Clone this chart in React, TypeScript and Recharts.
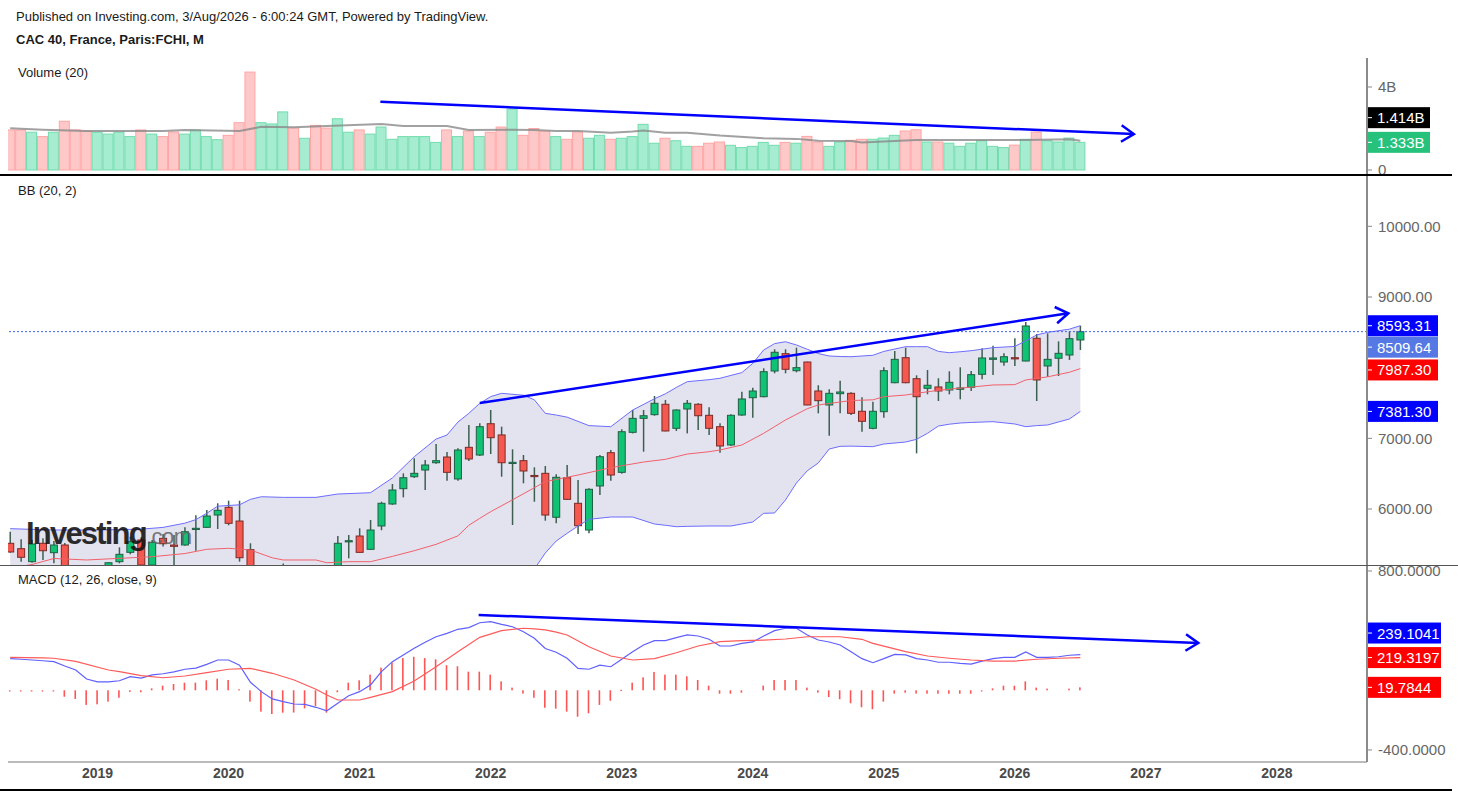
import React from 'react';
import { ComposedChart, Bar, Line, Area, XAxis, YAxis, ReferenceLine } from 'recharts';

const FONT = '"Liberation Sans", Arial, Helvetica, sans-serif';

// month index: 0 = Jan 2019, first candle is May 2018
const FIRST_MONTH = -8;
const X_DOMAIN: [number, number] = [-8.2, 116.25];
const yearTicks = [0, 12, 24, 36, 48, 60, 72, 84, 96, 108];

const opens = [
  5515, 5439, 5255, 5515, 5382, 5491, 5093, 4997,
  4731, 4993, 5255, 5387, 5562, 5207, 5585, 5491, 5491, 5713, 5741, 5915,
  6024, 5830, 5425, 4396, 4572, 4695, 4936, 4784, 4947, 4803, 4594, 5535,
  5618, 5430, 5760, 6071, 6288, 6457, 6552, 6655, 6736, 6425, 6873, 6764,
  7207, 7048, 6655, 6684, 6475, 6505, 5883, 6443, 6081, 5703, 6326, 6797,
  6519, 7085, 7283, 7335, 7482, 7142, 7415, 7482, 7326, 7165, 6906, 7330,
  7575, 7589, 7953, 8198, 7957, 8080, 7670, 7472, 7632, 7637, 7383, 7142,
  7377, 7787, 8141, 7844, 7708, 7727, 7684, 7694, 7722, 7906, 8118, 8080,
  8141, 8094, 8416, 8024, 8133, 8179, 8392,
];
const highs = [
  5679, 5571, 5562, 5585, 5547, 5520, 5180, 5040,
  5000, 5245, 5458, 5609, 5600, 5560, 5647, 5632, 5741, 5911, 5986, 6081,
  6118, 6118, 5515, 4600, 4700, 5230, 5150, 5050, 5120, 5000, 5618, 5632,
  5727, 5845, 6103, 6354, 6505, 6718, 6694, 6920, 6807, 6860, 7189, 7213,
  7401, 7165, 6845, 6764, 6590, 6609, 6491, 6623, 6411, 6293, 6764, 6835,
  7128, 7401, 7401, 7599, 7543, 7411, 7543, 7496, 7439, 7213, 7340, 7660,
  7717, 7991, 8260, 8260, 8283, 8085, 7751, 7694, 7814, 7651, 7581, 7519,
  8005, 8236, 8283, 7892, 7967, 7850, 7949, 8005, 7953, 8274, 8311, 8203,
  8416, 8646, 8476, 8486, 8373, 8515, 8593.31,
];
const lows = [
  5380, 5255, 5240, 5279, 5232, 4950, 4900, 4556,
  4600, 4950, 5232, 5359, 5100, 5200, 5470, 5170, 5480, 5410, 5730, 5717,
  5770, 5255, 3600, 4100, 4300, 4650, 4750, 4650, 4750, 4500, 4590, 5303,
  5380, 5420, 5700, 6060, 6165, 6440, 6269, 6640, 6401, 6400, 6679, 6750,
  6778, 6457, 5774, 6364, 6103, 5835, 5798, 6130, 5647, 5656, 6198, 6401,
  6500, 7070, 6811, 7320, 7100, 7104, 7070, 7118, 7048, 6797, 6892, 7320,
  7292, 7580, 7920, 7920, 7934, 7470, 7354, 7037, 7354, 7330, 7094, 7130,
  7292, 7780, 7780, 6788, 7623, 7528, 7623, 7552, 7670, 7835, 7896, 8028,
  8024, 8090, 7528, 7873, 7882, 8109, 8250,
];
const closes = [
  5392, 5317, 5505, 5410, 5491, 5093, 4997, 4731,
  4993, 5240, 5359, 5538, 5207, 5529, 5509, 5472, 5679, 5727, 5901, 5982,
  5798, 5311, 4396, 4572, 4695, 4936, 4784, 4947, 4803, 4594, 5515, 5552,
  5387, 5703, 6081, 6269, 6443, 6505, 6623, 6684, 6519, 6835, 6708, 7165,
  7009, 6655, 6661, 6538, 6460, 5915, 6449, 6137, 5764, 6279, 6740, 6481,
  7094, 7283, 7320, 7496, 7104, 7401, 7496, 7320, 7142, 6892, 7326, 7557,
  7670, 7943, 8218, 7977, 8000, 7472, 7533, 7637, 7656, 7354, 7241, 7383,
  7957, 8118, 7787, 7589, 7751, 7670, 7793, 7713, 7901, 8137, 8137, 8155,
  8133, 8590, 7826, 8118, 8203, 8410, 8509.64,
];
// billions
const volumes = [
  1.93, 1.93, 1.82, 1.61, 1.82, 2.35, 1.93, 1.88,
  1.82, 1.73, 1.82, 1.61, 1.93, 1.73, 1.61, 1.83, 1.73, 1.93, 1.61, 1.46,
  1.67, 2.28, 4.72, 2.28, 2.22, 2.8, 2.02, 1.53, 2.15, 2.02, 2.47, 1.82,
  1.93, 1.73, 2.07, 1.48, 1.61, 1.61, 1.61, 1.33, 1.93, 1.61, 1.88, 1.61,
  1.82, 2.07, 2.94, 1.67, 2.0, 1.88, 1.61, 1.48, 1.83, 1.53, 1.67, 1.48,
  1.53, 1.61, 2.2, 1.29, 1.53, 1.41, 1.14, 1.14, 1.29, 1.35, 1.19, 1.08,
  1.14, 1.33, 1.19, 1.33, 1.29, 1.62, 1.35, 1.14, 1.35, 1.43, 1.48, 1.48,
  1.54, 1.67, 1.88, 1.94, 1.35, 1.35, 1.29, 1.14, 1.29, 1.41, 1.14, 1.08,
  1.2, 1.48, 1.83, 1.41, 1.35, 1.54, 1.333,
];
const macdLine = [
  212, 208, 203, 198, 192, 163, 136, 76,
  56, 56, 64, 91, 82, 103, 111, 123, 141, 149, 174, 203,
  203, 168, 54, -9, -58, -76, -92, -94, -114, -137, -87, -36,
  -9, 36, 125, 192, 237, 282, 322, 359, 382, 409, 420, 453,
  460, 442, 426, 393, 349, 280, 255, 215, 147, 141, 168, 158,
  208, 259, 304, 333, 333, 353, 371, 364, 342, 297, 297, 315,
  324, 364, 400, 416, 416, 371, 337, 324, 304, 259, 212, 185,
  212, 241, 237, 212, 203, 188, 188, 181, 176, 196, 212, 221,
  221, 257, 221, 221, 225, 235, 239.1041,
];
const macdHist = [
  -3, -5, -5, -5, -5, -43, -58, -98,
  -94, -76, -50, -11, -13, 13, 31, 42, 51, 51, 67, 78,
  69, 7, -76, -143, -159, -150, -149, -121, -105, -150, -13, 51,
  67, 105, 152, 188, 216, 225, 216, 208, 168, 161, 125, 125,
  105, 60, 18, -22, -50, -117, -123, -143, -177, -154, -98, -70,
  3, 51, 87, 123, 105, 105, 94, 69, 31, -23, -23, -16,
  0, 31, 69, 69, 69, 18, -16, -45, -60, -87, -114, -127,
  -76, -22, -16, -22, -23, -23, -23, -23, -23, -3, 13, 31,
  31, 60, 18, 11, 0, 11, 19.7844,
];

// indicator lines, read at the months listed
const bandMonths = [
  -8, -4, 0, 4, 6, 8, 9, 10, 11, 13, 14, 15, 17, 20, 22, 25, 27, 29, 31, 32,
  33, 34, 35, 36, 37, 39, 40, 41, 42, 43, 44, 45, 47, 49, 51, 52, 53, 54, 56, 57,
  58, 59, 60, 61, 62, 63, 64, 65, 66, 67, 68, 69, 71, 72, 74, 75, 76, 77, 78, 79,
  80, 82, 84, 85, 86, 87, 89, 90,
];
const bbUpper = [
  5722, 5703, 5703, 5715, 5740, 5800, 5850, 5940, 6040, 6060, 6137, 6174, 6165, 6165, 6212, 6231, 6440, 6740, 6990, 7047,
  7230, 7354, 7495, 7590, 7637, 7610, 7545, 7354, 7330, 7300, 7240, 7180, 7165, 7400, 7560, 7630, 7720, 7802, 7830, 7850,
  7890, 7930, 8060, 8250, 8340, 8367, 8321, 8260, 8200, 8165, 8158, 8155, 8175, 8230, 8297, 8297, 8297, 8230, 8212, 8225,
  8240, 8283, 8300, 8380, 8462, 8500, 8545, 8593.31,
];
const bbLower = [
  4750, 4880, 4700, 4850, 4920, 4950, 4960, 4960, 4900, 4800, 4600, 4300, 4350, 4400, 4300, 4280, 4250, 4150, 4050, 4050,
  4000, 4150, 4250, 4400, 4600, 4900, 5150, 5377, 5547, 5656, 5760, 5854, 5887, 5887, 5788, 5770, 5750, 5755, 5760, 5760,
  5760, 5788, 5816, 5939, 5944, 6128, 6368, 6542, 6651, 6849, 6887, 6890, 6882, 6920, 6948, 6986, 7071, 7174, 7200, 7217,
  7225, 7236, 7203, 7165, 7180, 7189, 7274, 7381.3,
];
const midMonths = [
  -8, -7, -6, -4, -1, 2, 5, 8, 10, 12, 14, 16, 17, 20, 21, 23, 25, 27, 29, 31,
  32, 33, 34, 35, 36, 38, 41, 44, 47, 50, 52, 54, 56, 57, 59, 61, 63, 65, 66, 69,
  71, 72, 74, 75, 77, 80, 82, 84, 85, 87, 89, 90,
];
const bbMiddle = [
  5150, 5190, 5215, 5300, 5279, 5302, 5325, 5370, 5430, 5444, 5420, 5310, 5279, 5279, 5240, 5255, 5255, 5330, 5410, 5500,
  5560, 5620, 5770, 5868, 5962, 6130, 6387, 6481, 6585, 6665, 6703, 6778, 6811, 6835, 6906, 7071, 7260, 7420, 7472, 7535,
  7545, 7589, 7613, 7637, 7680, 7725, 7755, 7760, 7826, 7870, 7935, 7987.3,
];
const volMaMonths = [
  -8, -5, -1, 6, 8, 13, 15, 18, 21, 26, 28, 32, 34, 38, 40, 42, 44, 47, 49, 50,
  52, 54, 57, 61, 64, 66, 69, 70, 73, 75, 80, 85, 89, 90,
];
const volMa = [
  2.01, 1.94, 1.88, 1.88, 1.93, 1.88, 2.08, 2.06, 2.12, 2.22, 2.12, 2.12, 1.93, 1.94, 1.93, 1.88, 1.88, 1.8, 1.85, 1.9,
  1.8, 1.8, 1.66, 1.53, 1.5, 1.41, 1.4, 1.33, 1.4, 1.45, 1.45, 1.45, 1.48, 1.414,
];
const signalMonths = [
  -8, -5, -4, -2, 1, 2, 4, 6, 8, 10, 12, 14, 16, 18, 20, 21, 22, 24, 25, 27,
  29, 31, 33, 35, 37, 39, 40, 41, 42, 43, 45, 47, 49, 51, 53, 55, 57, 59, 61, 63,
  65, 68, 70, 71, 74, 76, 78, 80, 82, 84, 86, 88, 90,
];
const macdSignal = [
  221, 218, 215, 194, 136, 125, 98, 84, 96, 118, 141, 147, 114, 69, 7, -32, -65, -65, -47, -9,
  62, 158, 259, 355, 400, 416, 412, 405, 390, 371, 292, 230, 203, 212, 252, 297, 326, 333, 337, 344,
  359, 359, 342, 315, 259, 230, 215, 203, 196, 196, 208, 215, 219.3197,
];

// hand-drawn trend arrows: [month, value] start and end
const volumeTrend = [[25.9, 3.29], [94.9, 1.73]];
const priceTrend = [[35, 7500], [88.9, 8770]];
const macdTrend = [[34.9, 505], [100.8, 317]];

const candles = opens.map((open, k) => ({
  m: FIRST_MONTH + k,
  open,
  high: highs[k],
  low: lows[k],
  close: closes[k],
  vol: volumes[k],
  macd: macdLine[k],
  hist: macdHist[k],
}));
const band = bandMonths.map((m, k) => ({ m, upper: bbUpper[k], lower: bbLower[k], range: [bbLower[k], bbUpper[k]] }));
const middle = midMonths.map((m, k) => ({ m, v: bbMiddle[k] }));
const volAvg = volMaMonths.map((m, k) => ({ m, v: volMa[k] }));
const signal = signalMonths.map((m, k) => ({ m, v: macdSignal[k] }));
const seg = (t: number[][]) => t.map(([x, y]) => ({ x, y }));

const TREND = '#0000ff';
const AXIS = '#8a8a8a';

const CandleShape = (props: any) => {
  const { x, y, width, height, payload } = props;
  if (y == null || height == null || !payload) return null;
  const top = Math.min(y, y + height);
  const h = Math.abs(height);
  const ppu = h / (payload.high - payload.low);
  const cx = x + width / 2;
  const yO = top + (payload.high - payload.open) * ppu;
  const yC = top + (payload.high - payload.close) * ppu;
  const up = payload.close >= payload.open;
  const bTop = Math.min(yO, yC);
  const bH = Math.max(Math.abs(yO - yC), 1.2);
  return (
    <g>
      <line x1={cx} x2={cx} y1={top} y2={top + h} stroke="#3d5f50" strokeWidth={1.5} />
      <rect
        x={cx - 3.5}
        y={bTop}
        width={7}
        height={bH}
        fill={up ? '#0fc274' : '#f5584e'}
        stroke={up ? '#215f42' : '#7b2b27'}
        strokeWidth={1}
      />
    </g>
  );
};

const VolumeShape = (props: any) => {
  const { x, y, width, height, payload } = props;
  if (y == null || height == null || !payload) return null;
  const up = payload.close >= payload.open;
  const cx = x + width / 2;
  return (
    <rect
      x={cx - 5}
      y={Math.min(y, y + height)}
      width={10}
      height={Math.abs(height)}
      fill={up ? '#a6ecd0' : '#ffc8c8'}
      stroke={up ? '#72dcae' : '#ffa5a5'}
      strokeWidth={1}
    />
  );
};

const HistShape = (props: any) => {
  const { x, y, width, height, payload } = props;
  if (y == null || height == null || !payload || payload.hist === 0) return null;
  const cx = x + width / 2;
  return (
    <rect x={cx - 0.8} y={Math.min(y, y + height)} width={1.6} height={Math.max(Math.abs(height), 1.2)} fill="#ff5454" />
  );
};

const ArrowShape = (props: any) => {
  const { x1, y1, x2, y2 } = props;
  if ([x1, y1, x2, y2].some((v) => typeof v !== 'number' || isNaN(v))) return null;
  const a = Math.atan2(y2 - y1, x2 - x1);
  const len = 15;
  const spread = 0.58;
  const ax = x2 - len * Math.cos(a - spread);
  const ay = y2 - len * Math.sin(a - spread);
  const bx = x2 - len * Math.cos(a + spread);
  const by = y2 - len * Math.sin(a + spread);
  return (
    <g>
      <line x1={x1} y1={y1} x2={x2} y2={y2} stroke={TREND} strokeWidth={2.5} />
      <polyline points={`${ax},${ay} ${x2},${y2} ${bx},${by}`} fill="none" stroke={TREND} strokeWidth={2.5} />
    </g>
  );
};

// value tag drawn on the right axis
const makeTag = (text: string, bg: string, dy: number, w: number) => (props: any) => {
  const vb = props.viewBox || {};
  const x = (vb.x ?? 0) + (vb.width ?? 0);
  const y = (vb.y ?? 0) + dy;
  return (
    <g>
      <rect x={x} y={y - 10.5} width={w} height={21} fill={bg} />
      <line x1={x} x2={x + 5} y1={y} y2={y} stroke="#fff" strokeWidth={1} />
      <text x={x + 10} y={y + 5.5} fill="#fff" fontSize={15} fontFamily={FONT}>
        {text}
      </text>
    </g>
  );
};

const yAxisProps = {
  orientation: 'right' as const,
  width: 91,
  type: 'number' as const,
  allowDataOverflow: true,
  interval: 0 as const,
  axisLine: { stroke: AXIS, strokeWidth: 2 },
  tickLine: { stroke: AXIS },
  tickSize: 5,
  tickMargin: 6,
  tick: { fontSize: 15, fill: '#666', fontFamily: FONT },
};

const label = (top: number, bold = false, left = 18): React.CSSProperties => ({
  position: 'absolute',
  left,
  top,
  fontSize: 13,
  lineHeight: '14px',
  color: '#1a1a1a',
  fontWeight: bold ? 'bold' : 'normal',
  whiteSpace: 'nowrap',
});

const App: React.FC = () => {
  return (
    <div
      style={{
        position: 'absolute',
        left: 0,
        top: 0,
        width: 1458,
        height: 793,
        background: '#fff',
        overflow: 'hidden',
        fontFamily: FONT,
      }}
    >
      <div style={label(10, false, 16)}>
        Published on Investing.com, 3/Aug/2026 - 6:00:24 GMT, Powered by TradingView.
      </div>
      <div style={label(33, true, 16)}>CAC 40, France, Paris:FCHI, M</div>

      {/* volume: plot area 58..175, extra bottom room for the "0" tick */}
      <div style={{ position: 'absolute', left: 0, top: 58 }}>
        <ComposedChart width={1458} height={129} data={candles} margin={{ top: 0, right: 0, bottom: 12, left: 8 }}>
          <XAxis dataKey="m" type="number" domain={X_DOMAIN} allowDataOverflow hide />
          <YAxis
            {...yAxisProps}
            domain={[-0.241, 5.398]}
            ticks={[0, 4]}
            tickFormatter={(v: number) => (v === 0 ? '0' : `${v}B`)}
          />
          <Bar dataKey="vol" shape={VolumeShape} barSize={10} isAnimationActive={false} />
          <Line
            data={volAvg}
            dataKey="v"
            stroke="#8a8a8a"
            strokeOpacity={0.8}
            strokeWidth={2}
            dot={false}
            isAnimationActive={false}
          />
          <ReferenceLine segment={seg(volumeTrend)} shape={ArrowShape} ifOverflow="visible" />
          <ReferenceLine y={1.414} stroke="none" label={makeTag('1.414B', '#000000', -23, 63)} />
          <ReferenceLine y={1.333} stroke="none" label={makeTag('1.333B', '#26c27c', 0, 63)} />
        </ComposedChart>
      </div>
      <div style={label(66)}>Volume (20)</div>

      {/* price with Bollinger bands: plot area 175..565 */}
      <div style={{ position: 'absolute', left: 0, top: 175 }}>
        <ComposedChart width={1458} height={390} data={candles} margin={{ top: 0, right: 0, bottom: 0, left: 8 }}>
          <XAxis dataKey="m" type="number" domain={X_DOMAIN} allowDataOverflow hide />
          <YAxis
            {...yAxisProps}
            domain={[5208, 10726]}
            ticks={[6000, 7000, 9000, 10000]}
            tickFormatter={(v: number) => v.toFixed(2)}
          />
          <Area
            data={band}
            dataKey="range"
            stroke="none"
            fill="#e3e3f0"
            fillOpacity={1}
            isAnimationActive={false}
          />
          <Line data={band} dataKey="upper" stroke="#6c6cff" strokeWidth={1} dot={false} isAnimationActive={false} />
          <Line data={band} dataKey="lower" stroke="#6c6cff" strokeWidth={1} dot={false} isAnimationActive={false} />
          <Line data={middle} dataKey="v" stroke="#f2606a" strokeWidth={1} dot={false} isAnimationActive={false} />
          <ReferenceLine
            y={8509.64}
            stroke="#3f63ee"
            strokeDasharray="2 2"
            label={makeTag('8509.64', '#5678e4', 15.5, 71)}
          />
          <Bar
            dataKey={(d: any) => [d.low, d.high]}
            shape={CandleShape}
            barSize={7}
            isAnimationActive={false}
          />
          <ReferenceLine segment={seg(priceTrend)} shape={ArrowShape} ifOverflow="visible" />
          <ReferenceLine y={8593.31} stroke="none" label={makeTag('8593.31', '#0000ff', 0, 71)} />
          <ReferenceLine y={7987.3} stroke="none" label={makeTag('7987.30', '#ff0000', 1.4, 71)} />
          <ReferenceLine y={7381.3} stroke="none" label={makeTag('7381.30', '#0000ff', 0, 71)} />
        </ComposedChart>
      </div>
      <div style={label(184)}>BB (20, 2)</div>
      <div
        style={{
          position: 'absolute',
          left: 26,
          top: 516,
          whiteSpace: 'nowrap',
          opacity: 0.88,
          pointerEvents: 'none',
        }}
      >
        <span style={{ fontSize: 31, fontWeight: 'bold', color: '#111', letterSpacing: -1.8 }}>Investing</span>
        <span style={{ fontSize: 22, color: '#666', letterSpacing: -0.5 }}>.com</span>
      </div>

      {/* MACD: plot area 565..762, extra top room for the "800" tick */}
      <div style={{ position: 'absolute', left: 0, top: 553 }}>
        <ComposedChart width={1458} height={237} data={candles} margin={{ top: 12, right: 0, bottom: 0, left: 8 }}>
          <XAxis
            dataKey="m"
            type="number"
            domain={X_DOMAIN}
            allowDataOverflow
            ticks={yearTicks}
            interval={0}
            tickFormatter={(m: number) => String(2019 + m / 12)}
            height={28}
            tickLine={false}
            tickMargin={0}
            axisLine={{ stroke: '#777' }}
            tick={{ fontSize: 14, fontWeight: 'bold', fill: '#4a4a4a', fontFamily: FONT }}
          />
          <YAxis
            {...yAxisProps}
            domain={[-480.7, 840]}
            ticks={[-400, 800]}
            tickFormatter={(v: number) => v.toFixed(4)}
          />
          <Bar dataKey="hist" shape={HistShape} barSize={2} isAnimationActive={false} />
          <Line dataKey="macd" stroke="#5f5fff" strokeWidth={1.2} dot={false} isAnimationActive={false} />
          <Line data={signal} dataKey="v" stroke="#ff5a5a" strokeWidth={1.2} dot={false} isAnimationActive={false} />
          <ReferenceLine segment={seg(macdTrend)} shape={ArrowShape} ifOverflow="visible" />
          <ReferenceLine y={239.1041} stroke="none" label={makeTag('239.1041', '#0000ff', -21.6, 74)} />
          <ReferenceLine y={219.3197} stroke="none" label={makeTag('219.3197', '#ff0000', 0, 74)} />
          <ReferenceLine y={19.7844} stroke="none" label={makeTag('19.7844', '#ff0000', 0, 74)} />
        </ComposedChart>
      </div>
      <div style={label(573)}>MACD (12, 26, close, 9)</div>

      {/* pane separators */}
      <div style={{ position: 'absolute', left: 0, top: 174, width: 1452, height: 2, background: '#000' }} />
      <div style={{ position: 'absolute', left: 0, top: 565, width: 1458, height: 1, background: '#555' }} />
      <div style={{ position: 'absolute', left: 0, top: 789, width: 1452, height: 2, background: '#000' }} />
    </div>
  );
};

export default App;
